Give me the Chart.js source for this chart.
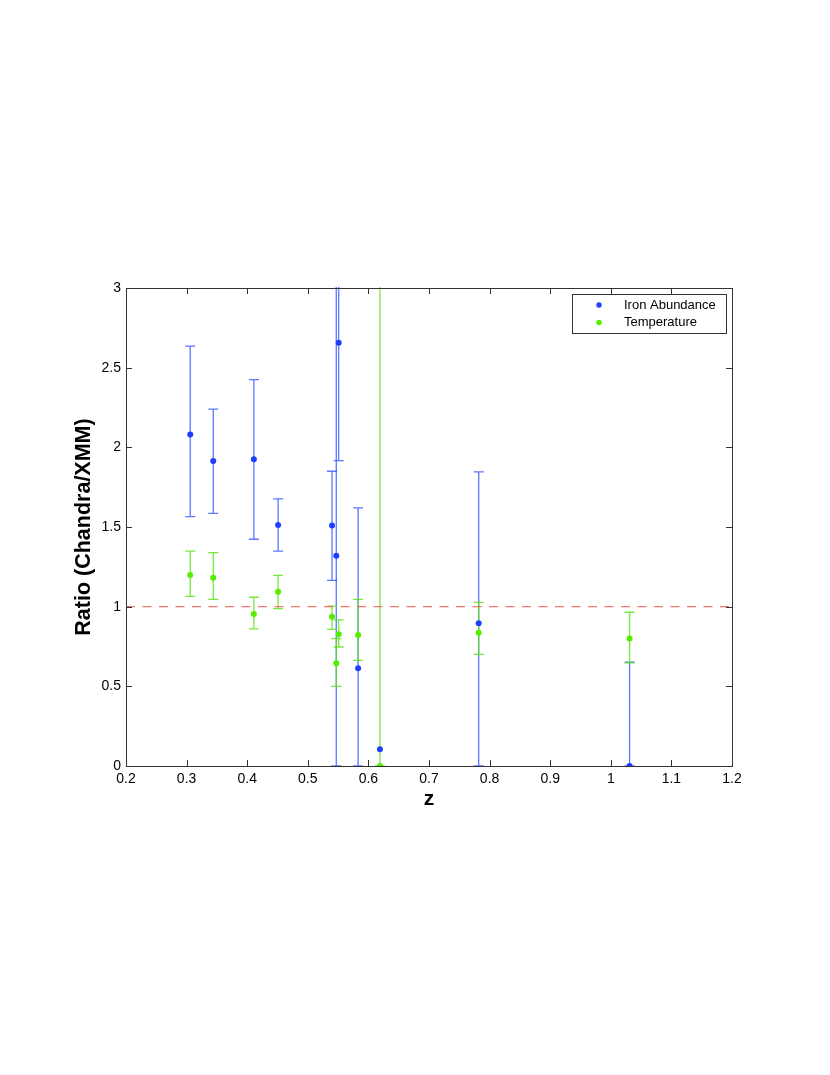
<!DOCTYPE html>
<html>
<head>
<meta charset="utf-8">
<script src="https://cdn.jsdelivr.net/npm/chart.js@4.4.1/dist/chart.umd.min.js"></script>
<style>
  html, body { margin: 0; padding: 0; background: #fff; }
  #wrap { width: 830px; height: 1075px; }
</style>
</head>
<body>
<div id="wrap"><canvas id="myChart" width="830" height="1075"></canvas></div>
<script>
// redshift of each cluster
const zVals = [0.306, 0.344, 0.411, 0.451, 0.540, 0.547, 0.551, 0.583, 0.619, 0.782, 1.031];

// iron abundance ratio + error range (null = no bar drawn)
const ironVal = [2.08, 1.915, 1.925, 1.512, 1.51, 1.32, 2.657, 0.613, 0.105, 0.896, 0.0];
const ironLo  = [1.565, 1.585, 1.423, 1.348, 1.165, 0.0, 1.917, 0.0, null, 0.0, 0.0];
const ironHi  = [2.635, 2.24, 2.425, 1.676, 1.85, 3.5, 3.5, 1.62, null, 1.846, 0.651];

// temperature ratio + error range
const tempVal = [1.199, 1.182, 0.954, 1.094, 0.937, 0.645, 0.827, 0.822, 0.0, 0.837, 0.80];
const tempLo  = [1.065, 1.046, 0.861, 0.988, 0.858, 0.5, 0.747, 0.663, 0.0, 0.70, 0.647];
const tempHi  = [1.348, 1.339, 1.059, 1.197, 1.004, 0.80, 0.917, 1.046, 3.5, 1.027, 0.965];

// ratio = 1 reference
const refX = [0.2, 1.2];
const refY = [1, 1];

const xTicks = [0.2, 0.3, 0.4, 0.5, 0.6, 0.7, 0.8, 0.9, 1.0, 1.1, 1.2];
const yTicks = [0, 0.5, 1, 1.5, 2, 2.5, 3];

const blue = '#1f3fff';
const blueErr = 'rgba(50,85,255,0.8)';
const green = '#55ee00';
const greenErr = 'rgba(95,228,25,0.85)';
const fontFam = '"Liberation Sans", Arial, sans-serif';

function pts(xs, ys){
    return xs.map((x, i) => ({x: x, y: ys[i]}));
}

const errorBars = {
    id: 'errorBars',
    beforeDatasetsDraw(chart){
        const c = chart.ctx, a = chart.chartArea;
        const sx = chart.scales.x, sy = chart.scales.y;
        c.save();
        c.beginPath();
        c.rect(a.left, a.top - 1, a.right - a.left, a.bottom - a.top + 2);
        c.clip();
        const sets = [[ironLo, ironHi, blueErr], [tempLo, tempHi, greenErr]];
        sets.forEach(s => {
            c.strokeStyle = s[2];
            c.lineWidth = 1.3;
            zVals.forEach((z, i) => {
                if (s[0][i] === null) return;
                const px = sx.getPixelForValue(z);
                const y1 = sy.getPixelForValue(s[0][i]);
                const y2 = sy.getPixelForValue(s[1][i]);
                c.beginPath();
                c.moveTo(px, y1); c.lineTo(px, y2);
                c.moveTo(px - 5, y1); c.lineTo(px + 5, y1);
                c.moveTo(px - 5, y2); c.lineTo(px + 5, y2);
                c.stroke();
            });
        });
        c.restore();
    },
    afterDraw(chart){
        const c = chart.ctx, a = chart.chartArea;
        const sx = chart.scales.x, sy = chart.scales.y;
        c.save();
        // box + inward ticks
        c.strokeStyle = '#333';
        c.lineWidth = 1;
        c.strokeRect(a.left + 0.5, a.top + 0.5, a.right - a.left, a.bottom - a.top);
        c.beginPath();
        xTicks.forEach(t => {
            const px = Math.round(sx.getPixelForValue(t)) + 0.5;
            c.moveTo(px, a.bottom); c.lineTo(px, a.bottom - 6);
            c.moveTo(px, a.top); c.lineTo(px, a.top + 6);
        });
        yTicks.forEach(t => {
            const py = Math.round(sy.getPixelForValue(t)) + 0.5;
            c.moveTo(a.left, py); c.lineTo(a.left + 6, py);
            c.moveTo(a.right, py); c.lineTo(a.right - 6, py);
        });
        c.stroke();

        // legend box top right
        const lx = 572, ly = 294, lw = 154, lh = 39;
        c.fillStyle = '#fff';
        c.fillRect(lx, ly, lw, lh);
        c.strokeStyle = '#333';
        c.strokeRect(lx + 0.5, ly + 0.5, lw, lh);
        c.font = '13px ' + fontFam;
        c.textBaseline = 'middle';
        chart.data.datasets.filter(d => d.inLegend).forEach((d, i) => {
            const yy = ly + 11 + i * 17.5;
            c.fillStyle = d.backgroundColor;
            c.beginPath();
            c.arc(599, yy, 2.7, 0, Math.PI * 2);
            c.fill();
            c.fillStyle = '#000';
            c.fillText(d.label, 624, yy);
        });
        c.restore();
    }
};

const ctx = document.getElementById('myChart').getContext('2d');

const grafico = new Chart(ctx, {
    type: 'scatter',
    data: {
        datasets: [{
            label: 'ref',
            type: 'line',
            data: pts(refX, refY),
            borderColor: 'rgba(238,95,85,0.85)',
            borderWidth: 1.2,
            borderDash: [9, 7.5],
            pointRadius: 0,
            fill: false
        }, {
            label: 'Iron Abundance',
            inLegend: true,
            data: pts(zVals, ironVal),
            backgroundColor: blue,
            borderWidth: 0,
            pointRadius: 3
        }, {
            label: 'Temperature',
            inLegend: true,
            data: pts(zVals, tempVal),
            backgroundColor: green,
            borderWidth: 0,
            pointRadius: 3
        }]
    },
    options: {
        responsive: false,
        devicePixelRatio: 1,
        animation: false,
        layout: {
            padding: { left: 71, top: 288, right: 98, bottom: 263 }
        },
        plugins: {
            legend: { display: false },
            tooltip: { enabled: false }
        },
        scales: {
            x: {
                type: 'linear',
                min: 0.2,
                max: 1.2,
                afterFit: s => { s.height = 46; },
                afterBuildTicks: s => { s.ticks = xTicks.map(v => ({value: v})); },
                grid: { display: false, drawTicks: false },
                border: { display: false },
                ticks: {
                    padding: 5,
                    color: '#000',
                    font: { family: fontFam, size: 14 },
                    callback: v => String(Math.round(v * 10) / 10)
                },
                title: {
                    display: true,
                    text: 'z',
                    color: '#000',
                    padding: 0,
                    font: { family: fontFam, size: 21, weight: 'bold' }
                }
            },
            y: {
                type: 'linear',
                min: 0,
                max: 3,
                afterFit: s => { s.width = 55; },
                afterBuildTicks: s => { s.ticks = yTicks.map(v => ({value: v})); },
                grid: { display: false, drawTicks: false },
                border: { display: false },
                ticks: {
                    padding: 5,
                    color: '#000',
                    font: { family: fontFam, size: 14 },
                    callback: v => String(v)
                },
                title: {
                    display: true,
                    text: 'Ratio (Chandra/XMM)',
                    color: '#000',
                    padding: 0,
                    font: { family: fontFam, size: 21.5, weight: 'bold' }
                }
            }
        }
    },
    plugins: [errorBars]
});
</script>
</body>
</html>
